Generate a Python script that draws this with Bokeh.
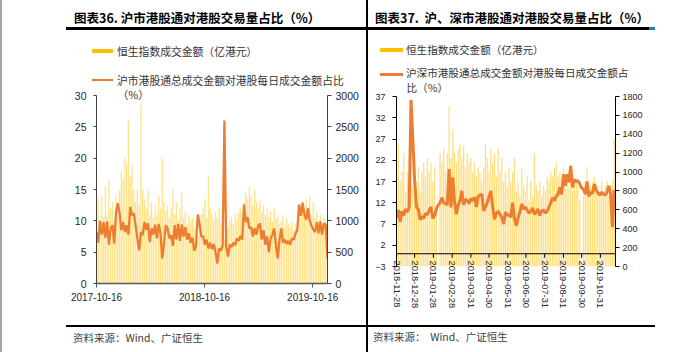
import pandas as pd
from bokeh.plotting import figure
from bokeh.models import (Range1d, LinearAxis, FixedTicker, DatetimeTickFormatter,
                          Label, Span, Div, ColumnDataSource, AllLabels, NoOverlap)
from bokeh.layouts import row, column
from bokeh.embed import file_html
from bokeh.resources import INLINE

# ---------------- data: left panel (沪市港股通) ----------------
hk_start = "2017-10-16"
hk_end = "2019-12-05"
hk_step = "6D"
hk_ratio = [8.2, 6.5, 10.0, 7.8, 9.8, 7.3, 9.9, 6.2, 8.8, 9.3, 6.4, 11.4, 12.8, 11.2, 8.5,
            9.8, 8.2, 9.3, 7.8, 12.2, 10.9, 11.2, 9.3, 7.2, 5.3, 8.2, 7.7, 9.8, 8.6, 9.6,
            6.6, 8.8, 7.8, 9.4, 7.2, 9.5, 8.0, 4.0, 6.4, 9.3, 8.8, 7.2, 7.7, 6.0,
            9.3, 7.0, 9.5, 6.8, 9.4, 7.5, 9.0, 7.0, 8.0, 6.5, 7.3, 5.2, 6.0, 11.0, 9.5,
            7.5, 7.5, 6.2, 7.0, 5.6, 6.5, 5.5, 6.3, 5.0, 3.2, 5.6, 5.2, 6.0, 26.0, 5.8,
            4.3, 6.2, 5.8, 6.5, 6.1, 7.2, 6.8, 7.6, 7.0, 12.6, 9.8, 10.6, 8.8,
            9.0, 7.5, 8.8, 7.8, 9.2, 9.6, 7.0, 8.5, 6.2, 7.5, 5.0, 7.2, 7.8, 8.8, 6.0,
            4.0, 7.0, 8.8, 6.5, 7.0, 6.3, 6.8, 6.2, 7.2, 7.0, 8.0, 8.5, 12.6, 10.8, 12.9,
            11.0, 10.2, 12.0, 10.0, 9.2, 8.6, 8.2, 9.8, 8.0, 9.9, 7.8, 9.6, 9.4, 4.0]
hk_turnover = [1100, 1350, 950, 1400, 1050, 1550, 1100, 1650, 1200, 1300, 1000, 1400, 1250,
               1500, 1800, 1650, 2000, 1900, 2600, 1700, 1900, 1500, 1300, 1500, 1250, 2850,
               1500, 1350, 1200, 1500, 1100, 1300, 1050, 1250, 1100, 1400, 1200, 2000, 1300,
               1150, 1250, 1050, 1200, 1500, 1100, 1300, 1000, 1200, 1450, 1050, 1150, 950,
               1100, 1000, 1050, 900, 800, 750, 1000, 1100, 1200, 1350, 1050, 1700, 1200,
               1100, 1000, 1150, 1050, 1200, 950, 1000, 700, 850, 900, 1000, 1050, 950, 1100,
               1000, 1150, 1200, 1100, 1300, 1450, 1350, 1550, 1400, 1250, 1500, 1300, 1200,
               1350, 1150, 1250, 1100, 1200, 1050, 1150, 1000, 1200, 1050, 1100, 950, 1000,
               1100, 900, 1050, 950, 900, 1000, 850, 950, 900, 1100, 1050, 1250, 1150, 1350,
               1200, 1400, 1100, 1300, 1050, 1150, 1000, 1100, 950, 1050, 1000, 950]
hk_ticks = ["2017-10-16", "2018-10-16", "2019-10-16"]

# ---------------- data: right panel (沪、深市港股通) ----------------
all_start = "2018-11-28"
all_end = "2019-11-25"
all_step = "3D"
all_ratio = [8.5, 10.3, 7.5, 10.0, 9.0, 10.5, 9.8, 11.0, 36.2, 27.0, 17.0, 11.0, 10.5, 8.0,
             8.8, 8.3, 9.5, 9.2, 10.2, 11.0, 8.3, 9.0, 10.5, 11.5, 12.0, 13.2, 12.0, 11.8,
             11.5, 19.9, 10.9, 18.0, 12.0, 9.3, 11.5, 12.5, 14.8, 11.5, 12.8, 12.5, 11.8,
             13.0, 12.5, 13.3, 11.0, 13.5, 13.8, 14.0, 10.1, 11.0, 12.0, 13.5, 14.8, 11.0,
             8.1, 9.5, 10.0, 9.3, 8.5, 7.0, 9.8, 9.0, 9.2, 8.6, 12.0, 8.2, 6.6, 8.5, 9.8,
             11.7, 10.5, 11.0, 10.3, 9.5, 10.0, 10.8, 9.3, 9.8, 10.5, 9.0, 10.0, 10.3, 9.6,
             10.0, 11.0, 12.0, 13.2, 12.5, 13.5, 14.0, 15.6, 14.0, 18.7, 16.0, 18.7, 16.8,
             20.7, 15.6, 17.5, 17.0, 17.2, 16.4, 15.5, 15.2, 14.0, 17.0, 13.5, 14.5, 14.2,
             16.4, 15.0, 14.3, 13.8, 14.5, 14.0, 13.8, 14.5, 16.0, 14.0, 6.3, 15.0]
all_turnover = [700, 1300, 900, 1000, 1200, 800, 1000, 950, 1100,
                850, 1200, 900, 1050, 800, 1000, 1100, 950, 1150, 1000, 1100, 900, 1050, 600,
                0,
                1200, 1100, 1250, 1000, 1200, 1700, 1150, 1450, 1200,
                1100, 1250, 1300, 1150, 1280, 1050, 1200, 1100, 1150, 1000, 1100, 950, 1050,
                1000, 900, 1050, 1300, 1150, 1000, 1250, 1100, 1200, 950,
                1250, 1000, 1150, 900, 1000, 850, 1050, 900, 1000, 1150, 800,
                900, 750, 1050, 850, 800, 950, 700, 900, 750, 1200, 850,
                800, 900, 750, 850, 800, 950, 900, 1000, 950, 1050,
                1100, 950, 1000, 900, 1050, 950, 900, 850, 1000, 800, 900,
                900,
                850, 700, 0, 750, 900, 1050, 800, 850, 900, 950, 800, 850, 750, 900, 800,
                850, 900, 750, 800, 900, 1350]
all_ticks = ["2018-11-28", "2018-12-28", "2019-01-28", "2019-02-28", "2019-03-31",
             "2019-04-30", "2019-05-31", "2019-06-30", "2019-07-31", "2019-08-31",
             "2019-09-30", "2019-10-31"]

left_title = "图表36. 沪市港股通对港股交易量占比（%）"
right_title = "图表37.  沪、深市港股通对港股交易量占比（%）"
bar_label = "恒生指数成交金额（亿港元）"
left_line_label = ["沪市港股通总成交金额对港股每日成交金额占比", "（%）"]
right_line_label = ["沪深市港股通总成交金额对港股每日成交金额占", "比（%）"]
left_source = "资料来源：Wind、广证恒生"
right_source = "资料来源：  Wind、广证恒生"

BAR_COLOR = "#FFC000"
LINE_COLOR = "#ED7D31"
CJK = "Noto Sans CJK SC"
NUM = "Liberation Sans"
H = 352

fmt_all = "%Y-%m-%d"
def date_formatter():
    return DatetimeTickFormatter(microseconds=fmt_all, milliseconds=fmt_all, seconds=fmt_all,
                                 minsec=fmt_all, minutes=fmt_all, hourmin=fmt_all,
                                 hours=fmt_all, days=fmt_all, months=fmt_all, years=fmt_all)

def ms(d):
    return pd.Timestamp(d).value / 1e6

def style_axis(ax, size, tick_out, standoff, color="#404040"):
    ax.axis_line_color = color
    ax.major_tick_line_color = color
    ax.major_tick_out = tick_out
    ax.major_tick_in = 0
    ax.minor_tick_line_color = None
    ax.major_label_standoff = standoff
    ax.major_label_text_font = NUM
    ax.major_label_text_font_size = size
    ax.major_label_text_color = "#262626"
    ax.major_label_policy = AllLabels()

# ---- html helpers for the decorations around the charts ----
def h_text(x, yc, text, size, color="#333333", bold=False):
    return (f'<span style="position:absolute;left:{x}px;top:{yc - size / 2}px;'
            f"font-family:'{CJK}';font-size:{size}px;line-height:{size}px;white-space:pre;"
            f'color:{color};font-weight:{700 if bold else 400};">{text}</span>')

def h_rect(x0, x1, y0, y1, color):
    return (f'<div style="position:absolute;left:{x0}px;top:{y0}px;width:{x1 - x0}px;'
            f'height:{y1 - y0}px;background:{color};"></div>')

def block(w, h, items):
    html = (f'<div style="position:relative;width:{w}px;height:{h}px;overflow:visible;margin:0;padding:0;">'
            + "".join(items) + "</div>")
    return Div(text=html, width=w, height=h, margin=(0, 0, 0, 0))

def frame_label(p, fl, fb, X, Y, text, size):
    p.add_layout(Label(x=X - fl, y=fb - Y, x_units="screen", y_units="screen", text=text,
                       text_font=CJK, text_font_size=f"{size}px", text_color="#333333",
                       text_baseline="middle", text_align="left"))

# ---------------- left panel (canvas x 2..366) ----------------
OX1, W1 = 2, 364
FL1, FT1, FR1, FB1 = 96, 86, 327, 283      # frame edges in window pixels
Y30, TOP1_H, BOT1_Y = 95, 86, 312
px1 = (FB1 - Y30) / 30.0
hk_dates = pd.date_range(hk_start, periods=len(hk_ratio), freq=hk_step)
src1 = ColumnDataSource(dict(d=hk_dates, r=hk_ratio, t=hk_turnover))

p1 = figure(width=W1, height=BOT1_Y - FT1, x_axis_type="datetime", output_backend="svg",
            toolbar_location=None, title=None,
            x_range=Range1d(pd.Timestamp(hk_start), pd.Timestamp(hk_end)),
            y_range=Range1d(0, (FB1 - FT1) / px1),
            min_border_left=FL1 - OX1, min_border_right=OX1 + W1 - FR1,
            min_border_top=0, min_border_bottom=BOT1_Y - FB1)
p1.extra_y_ranges = {"turn": Range1d(0, 100 * (FB1 - FT1) / px1)}
p1.outline_line_color = None
p1.grid.grid_line_color = None

p1.vbar(x="d", top="t", width=6 * 86400000 * 0.75, source=src1, y_range_name="turn",
        fill_color=BAR_COLOR, fill_alpha=0.45, line_color=None)
p1.line(x="d", y="r", source=src1, line_color=LINE_COLOR, line_width=2.3)

p1.xaxis.ticker = FixedTicker(ticks=[ms(t) for t in hk_ticks])
p1.xaxis.formatter = date_formatter()
style_axis(p1.xaxis[0], "10px", 4, 5, "#595959")
p1.xaxis.axis_line_width = 1.5
p1.yaxis.ticker = FixedTicker(ticks=[0, 5, 10, 15, 20, 25, 30])
p1.yaxis.bounds = (0, 30)
style_axis(p1.yaxis[0], "10.5px", 3, 7)
ax_r1 = LinearAxis(y_range_name="turn", bounds=(0, 3000),
                   ticker=FixedTicker(ticks=[0, 500, 1000, 1500, 2000, 2500, 3000]))
style_axis(ax_r1, "10.5px", 4, 4)
p1.add_layout(ax_r1, "right")
frame_label(p1, FL1, FB1, 117, 93, left_line_label[1], 10.8)

top1 = block(W1, TOP1_H, [
    h_text(74 - OX1, 18, left_title, 12.5, "#000000", bold=True),
    h_rect(66 - OX1, 366 - OX1, 27, 29.5, "#000000"),
    h_rect(92 - OX1, 113 - OX1, 48.5, 53, BAR_COLOR),
    h_text(117 - OX1, 51, bar_label, 10.8),
    h_rect(92 - OX1, 113 - OX1, 79, 81, LINE_COLOR),
    h_text(117 - OX1, 80, left_line_label[0], 10.8),
])
bot1 = block(W1, H - BOT1_Y, [
    h_rect(66 - OX1, 366 - OX1, 324.5 - BOT1_Y, 326.5 - BOT1_Y, "#000000"),
    h_text(73 - OX1, 338 - BOT1_Y, left_source, 10.5, "#404040"),
])

# ---------------- right panel (canvas x 368..700), x in days since start ----------------
OX2, W2 = 368, 332
FL2, FT2, FR2, FB2 = 396, 80, 615, 266
Y37, TOP2_H, BOT2_Y = 96, 80, 312
px2 = (FB2 - Y37) / 40.0
t0 = pd.Timestamp(all_start)
all_days = [(d - t0).days for d in pd.date_range(all_start, periods=len(all_ratio), freq=all_step)]
tick_days = [(pd.Timestamp(t) - t0).days for t in all_ticks]
src2 = ColumnDataSource(dict(d=all_days, r=all_ratio, t=all_turnover))

p2 = figure(width=W2, height=BOT2_Y - FT2, output_backend="svg",
            toolbar_location=None, title=None,
            x_range=Range1d(0, (pd.Timestamp(all_end) - t0).days),
            y_range=Range1d(-3, -3 + (FB2 - FT2) / px2),
            min_border_left=FL2 - OX2, min_border_right=OX2 + W2 - FR2,
            min_border_top=0, min_border_bottom=BOT2_Y - FB2)
p2.extra_y_ranges = {"turn": Range1d(0, 45 * (FB2 - FT2) / px2)}
p2.outline_line_color = None
p2.grid.grid_line_color = None

p2.vbar(x="d", top="t", width=3 * 0.7, source=src2, y_range_name="turn",
        fill_color=BAR_COLOR, fill_alpha=0.5, line_color=None)
p2.add_layout(Span(location=0, dimension="width", line_color="#000000", line_width=1))
p2.segment(x0=tick_days, y0=[0] * len(tick_days), x1=tick_days,
           y1=[-4 / px2] * len(tick_days), line_color="#000000", line_width=1)
p2.line(x="d", y="r", source=src2, line_color=LINE_COLOR, line_width=3)

p2.xaxis.ticker = FixedTicker(ticks=tick_days)
p2.xaxis.major_label_overrides = {float(d): lab for d, lab in zip(tick_days, all_ticks)}
p2.xaxis.major_label_orientation = "vertical"
style_axis(p2.xaxis[0], "9.3px", 0, -6, "#000000")
p2.xaxis.major_label_policy = NoOverlap(min_distance=-30)
p2.xaxis.axis_line_color = None
p2.xaxis.major_tick_line_color = None
p2.yaxis.ticker = FixedTicker(ticks=[-3, 2, 7, 12, 17, 22, 27, 32, 37])
p2.yaxis.bounds = (-3, 37)
style_axis(p2.yaxis[0], "9px", 4, 7, "#000000")
ax_r2 = LinearAxis(y_range_name="turn", bounds=(0, 1800),
                   ticker=FixedTicker(ticks=list(range(0, 1801, 200))))
style_axis(ax_r2, "9px", 4, 3, "#000000")
p2.add_layout(ax_r2, "right")
frame_label(p2, FL2, FB2, 406, 87, right_line_label[1], 10.6)

top2 = block(W2, TOP2_H, [
    h_text(375 - OX2, 18, right_title, 12.5, "#000000", bold=True),
    h_rect(0, 655 - OX2, 27, 29.5, "#000000"),
    h_rect(649 - OX2, 655 - OX2, 27, 29.5, "#2E75B6"),
    h_rect(380 - OX2, 403 - OX2, 47.5, 52, BAR_COLOR),
    h_text(406 - OX2, 50, bar_label, 10.6),
    h_rect(380 - OX2, 403 - OX2, 73, 75.5, LINE_COLOR),
    h_text(406 - OX2, 73, right_line_label[0], 10.6),
])
bot2 = block(W2, H - BOT2_Y, [
    h_rect(0, 655 - OX2, 325 - BOT2_Y, 327 - BOT2_Y, "#000000"),
    h_text(373 - OX2, 337 - BOT2_Y, right_source, 10.5, "#404040"),
])

gray_bar = block(2, H, [h_rect(0, 2, 0, H, "#A6A6A6")])
divider = block(2, H, [h_rect(0, 2, 0, H, "#000000")])

layout = row(gray_bar, column(top1, p1, bot1), divider, column(top2, p2, bot2))
with open("out.html", "w", encoding="utf-8") as f:
    f.write(file_html(layout, INLINE))
